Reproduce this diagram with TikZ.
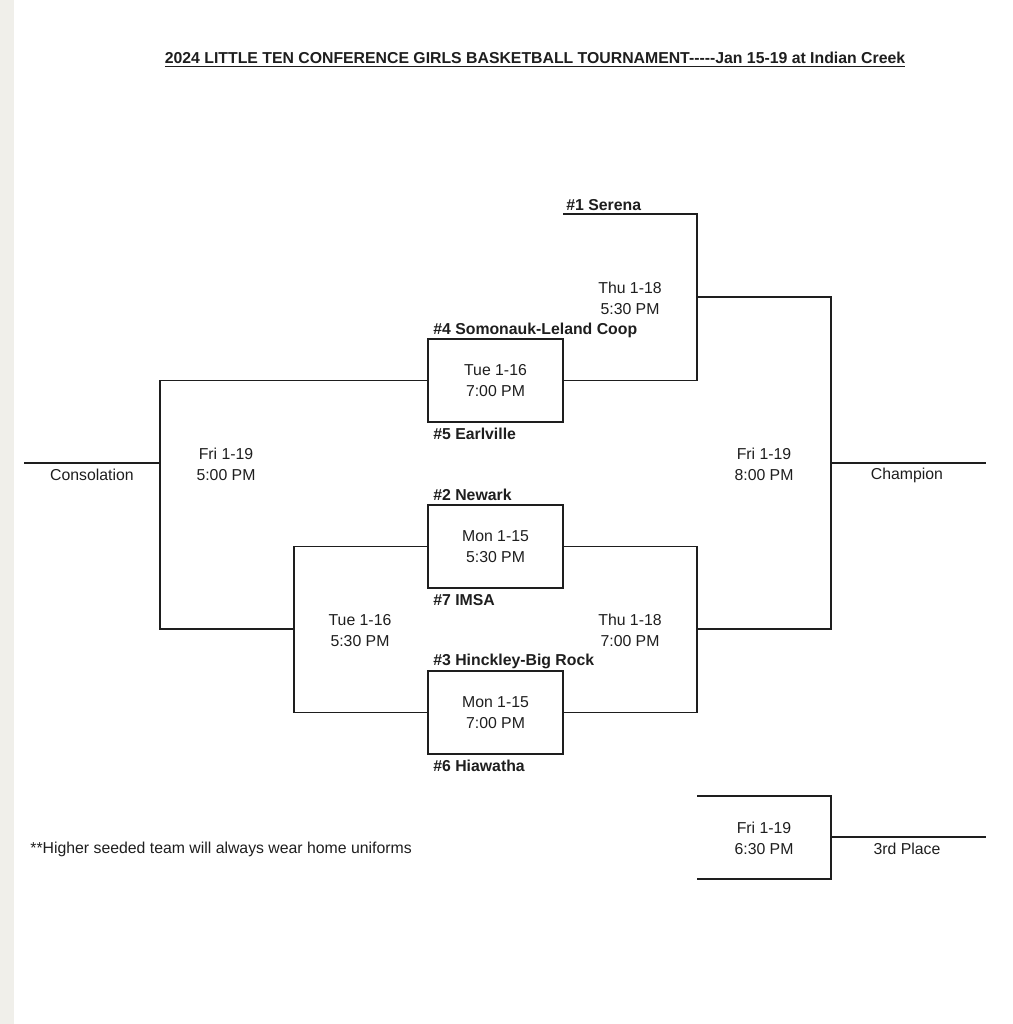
\documentclass[tikz,border=0pt]{standalone}
\usepackage{fontspec}
\setmainfont{Liberation Sans}
\definecolor{strip}{HTML}{F0EFEA}
\definecolor{ink}{HTML}{1E1E1E}
\tikzset{
  line/.style={draw=ink, line width=0.75pt},
  game/.style={line, rectangle, minimum width=2.7cm, minimum height=1.66cm, inner sep=0pt, align=center, text=ink, font=\fontsize{9}{11.9}\selectfont},
  slot/.style={align=center, font=\fontsize{9}{11.9}\selectfont, text=ink},
  team/.style={anchor=west, inner xsep=0pt, font=\fontsize{9}{11}\selectfont\bfseries, text=ink},
}
\begin{document}
\begin{tikzpicture}[x=0.02cm, y=-0.02cm]
		% Page
		\useasboundingbox (0,0) rectangle (1012,1024);
		\fill[strip] (0,0) rectangle (14,1024);
		\node[text=ink] (title) at (535,60) {\fontsize{9}{11}\selectfont\bfseries\underline{2024 LITTLE TEN CONFERENCE GIRLS BASKETBALL TOURNAMENT-{}-{}-{}-{}-Jan 15-19 at Indian Creek}};
		
		% Games
		\node[game] (tue16) at (495.5,380.5) {Tue 1-16\\7:00 PM};
		\node[game] (mon15a) at (495.5,546.5) {Mon 1-15\\5:30 PM};
		\node[game] (mon15b) at (495.5,712.5) {Mon 1-15\\7:00 PM};
		
		% Junctions
		\coordinate (ser) at (563,214);
		\coordinate (qf1) at (697,297);
		\coordinate (qf2) at (697,629);
		\coordinate (fin) at (831,463);
		\coordinate (champ) at (986,463);
		\coordinate (sf) at (294,629);
		\coordinate (cons) at (160,463);
		\coordinate (consend) at (24,463);
		\coordinate (th1) at (697,796);
		\coordinate (th2) at (697,879);
		\coordinate (third) at (831,837);
		\coordinate (thirdend) at (986,837);
		
		% Teams
		\node[team] (t1) at (566,205) {\#1 Serena};
		\node[team] (t4) at (433,330) {\#4 Somonauk-Leland Coop};
		\node[team] (t5) at (433,434) {\#5 Earlville};
		\node[team] (t2) at (433,495) {\#2 Newark};
		\node[team] (t7) at (433,600) {\#7 IMSA};
		\node[team] (t3) at (433,661) {\#3 Hinckley-Big Rock};
		\node[team] (t6) at (433,766) {\#6 Hiawatha};
		
		% Times
		\node[slot] (d1) at (630,298.5) {Thu 1-18\\5:30 PM};
		\node[slot] (d2) at (630,630.5) {Thu 1-18\\7:00 PM};
		\node[slot] (d3) at (764,464.5) {Fri 1-19\\8:00 PM};
		\node[slot] (d4) at (226,464.5) {Fri 1-19\\5:00 PM};
		\node[slot] (d5) at (360,630.5) {Tue 1-16\\5:30 PM};
		\node[slot] (d6) at (764,838.5) {Fri 1-19\\6:30 PM};
		\node[slot] (lc) at (907,475) {Champion};
		\node[slot] (lk) at (92,475) {Consolation};
		\node[slot] (l3) at (907,849) {3rd Place};
		\node[slot, anchor=west, inner xsep=0pt] (note) at (30,849) {**Higher seeded team will always wear home uniforms};
		
		% Lines
		\draw[line] (ser) -| (qf1) |- (tue16.east);
		\draw[line] (mon15a.east) -| (qf2) |- (mon15b.east);
		\draw[line] (qf1) -| (fin) |- (qf2);
		\draw[line] (fin) -- (champ);
		\draw[line] (mon15a.west) -| (sf) |- (mon15b.west);
		\draw[line] (tue16.west) -| (cons) |- (sf);
		\draw[line] (cons) -- (consend);
		\draw[line] (th1) -| (third) |- (th2);
		\draw[line] (third) -- (thirdend);
		
	\end{tikzpicture}
\end{document}
